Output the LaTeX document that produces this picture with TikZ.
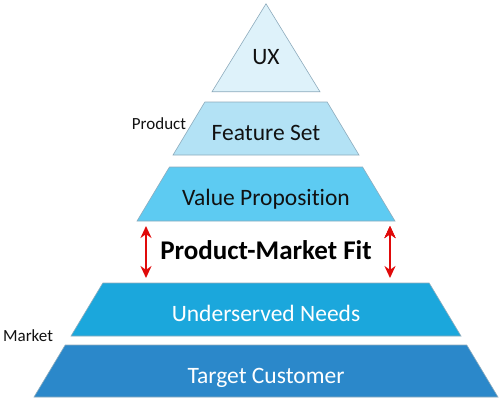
\documentclass[tikz,border=0pt]{standalone}
\usepackage{fontspec}
\setmainfont{Carlito}[Ligatures=NoCommon]
\usepackage{tikz}
\usetikzlibrary{shapes.geometric,arrows.meta,positioning}

\definecolor{uxfill}{HTML}{DEF2FA}
\definecolor{fsfill}{HTML}{B3E2F5}
\definecolor{vpfill}{HTML}{5DCBF2}
\definecolor{unfill}{HTML}{1BA7DC}
\definecolor{tcfill}{HTML}{2B88CA}
\definecolor{edgegray}{HTML}{8DABBC}
\definecolor{fitred}{HTML}{E00A0A}
\definecolor{darktext}{HTML}{111111}

\begin{document}
\begin{tikzpicture}[x=1pt, y=-1pt, node distance = 62pt, on grid,
layer/.style={trapezium, trapezium angle=59, trapezium stretches body=true, inner sep=0pt,
  draw=edgegray, line width=0.6pt, text=darktext,
  font=\fontsize{23.5}{23.5}\selectfont, text height=38pt, text depth=15pt},
side/.style={font=\fontsize{17}{17}\selectfont, text=darktext},
fit arrow/.style={{Stealth[length=12pt,width=11pt]}-{Stealth[length=12pt,width=11pt]},
  line width=2.4pt, draw=fitred}]
\useasboundingbox (0,0) rectangle (501,400);
\node [layer, fill=tcfill, text=white, minimum width=464pt, text depth=14pt] (tc) at (266,371) {Target Customer};
\node [layer, fill=unfill, text=white, minimum width=390pt] (un) [above=61.5pt of tc] {Underserved Needs};
\node [layer, fill=vpfill, minimum width=258pt, text depth=16pt] (vp) [above=115.5pt of un] {Value Proposition};
\node [layer, fill=fsfill, minimum width=186pt] (fs) [above=65.5pt of vp] {Feature Set};
\node [isosceles triangle, shape border rotate=90, isosceles triangle stretches=true,
  inner sep=0pt, minimum width=108pt, minimum height=88pt, anchor=apex,
  fill=uxfill, draw=edgegray, line width=0.6pt, text=darktext,
  font=\fontsize{23.5}{23.5}\selectfont, text height=15pt, text depth=15pt] (ux) at (266,3) {UX};
\node [font=\fontsize{27}{27}\selectfont\bfseries, text=black] (pmf) at (266,250) {Product-Market Fit};
\node [side] (product) at (159,124) {Product};
\node [side] (market) at (28,336) {Market};
\coordinate (fit-l-top) at (146,226);
\coordinate (fit-l-bot) at (146,278);
\coordinate (fit-r-top) at (390,226);
\coordinate (fit-r-bot) at (390,278);
\path [fit arrow]
(fit-l-top) edge (fit-l-bot)
(fit-r-top) edge (fit-r-bot);
\end{tikzpicture}
\end{document}
